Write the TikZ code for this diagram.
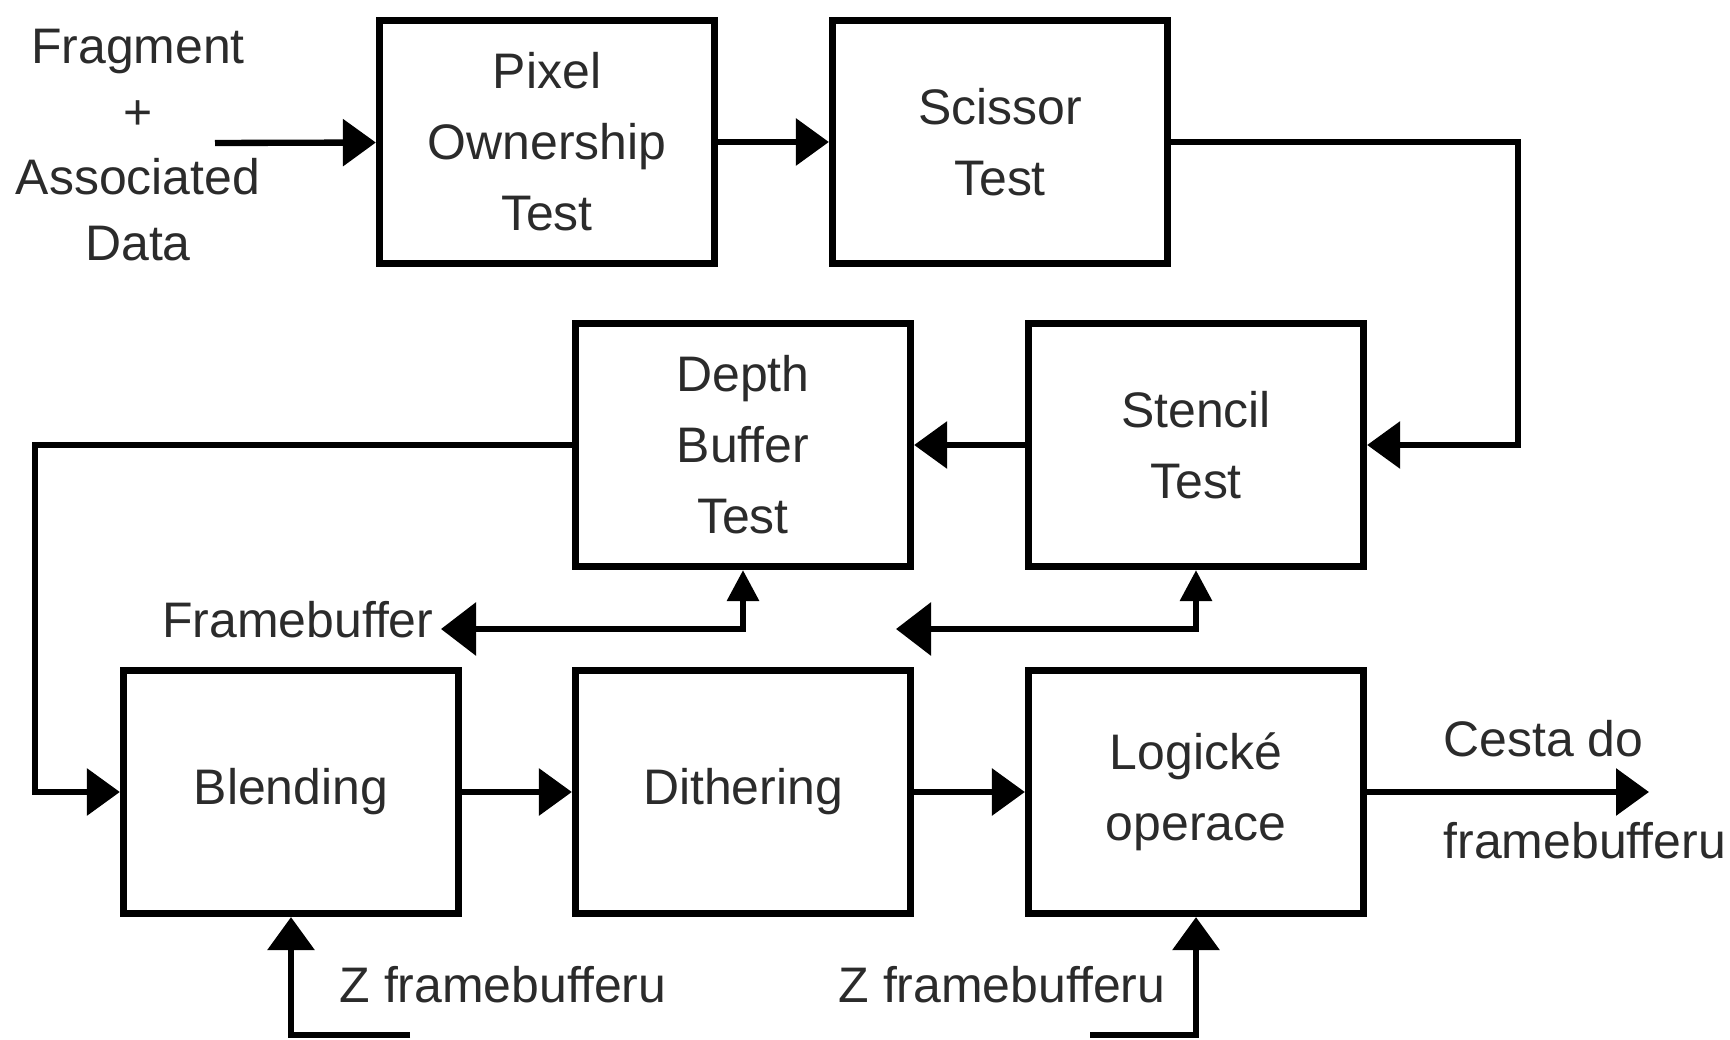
\documentclass[tikz,border=0pt]{standalone}
\usepackage{fontspec}
\setmainfont{Liberation Sans}
\usepackage{tikz}
\usetikzlibrary{arrows.meta}

\definecolor{txtgray}{HTML}{2B2B2B}

\tikzset{
  box/.style={draw, line width=2pt, minimum width=3.35cm, minimum height=2.43cm,
    align=center, text=txtgray, font=\fontsize{14.2}{20.2}\selectfont},
  lbl/.style={text=txtgray, font=\fontsize{14.2}{18.7}\selectfont, inner sep=0pt},
  flow/.style={line width=1.8pt, -{Triangle[length=0.33cm,width=0.46cm]}},
  fbflow/.style={line width=1.8pt,
    {Triangle[length=0.35cm,width=0.52cm]}-{Triangle[length=0.31cm,width=0.31cm]}}
}

\begin{document}
\begin{tikzpicture}[x=0.01cm, y=-0.01cm]
  \useasboundingbox (0,0) rectangle (1730,1040);

  % boxes
  \node[box] (pixel) at (547,142) {Pixel\\Ownership\\Test};
  \node[box] (scissor) at (1000,142) {Scissor\\Test};
  \node[box] (depth) at (743,445) {Depth\\Buffer\\Test};
  \node[box] (stencil) at (1196,445) {Stencil\\Test};
  \node[box] (blend) at (291,792) {Blending};
  \node[box] (dither) at (743,792) {Dithering};
  \node[box] (logic) at (1196,792) {Logické\\operace};

  % input
  \node[lbl, align=center] (frag) at (138,145) {Fragment\\+\\Associated\\Data};
  \coordinate (in) at (215,143);
  \draw[flow] (in) -- (pixel);
  \draw[flow] (pixel) -- (scissor);
  \draw[flow] (scissor.east) -- ++(347,0) |- (stencil.east);
  \draw[flow] (stencil) -- (depth);
  \draw[flow] (depth.west) -- ++(-537,0) |- (blend.west);
  \draw[flow] (blend) -- (dither);
  \draw[flow] (dither) -- (logic);

  % output
  \coordinate (out) at (1649,792);
  \draw[flow] (logic.east) -- (out);
  \node[lbl, anchor=west] (cesta) at (1443,739) {Cesta do};
  \node[lbl, anchor=west] (fbu) at (1443,841) {framebufferu};

  % framebuffer links
  \coordinate (fbl) at (441,629);
  \draw[fbflow] (fbl) -| (depth.south);
  \node[lbl, anchor=east] (fb) at (434,620) {Framebuffer};
  \coordinate (sl) at (896,629);
  \draw[fbflow] (sl) -| (stencil.south);

  % from framebuffer
  \coordinate (zb) at (410,1035);
  \draw[flow] (zb) -| (blend.south);
  \node[lbl, anchor=west] (zbl) at (339,985) {Z framebufferu};
  \coordinate (zl) at (1090,1035);
  \draw[flow] (zl) -| (logic.south);
  \node[lbl, anchor=east] (zll) at (1166,985) {Z framebufferu};
\end{tikzpicture}
\end{document}
